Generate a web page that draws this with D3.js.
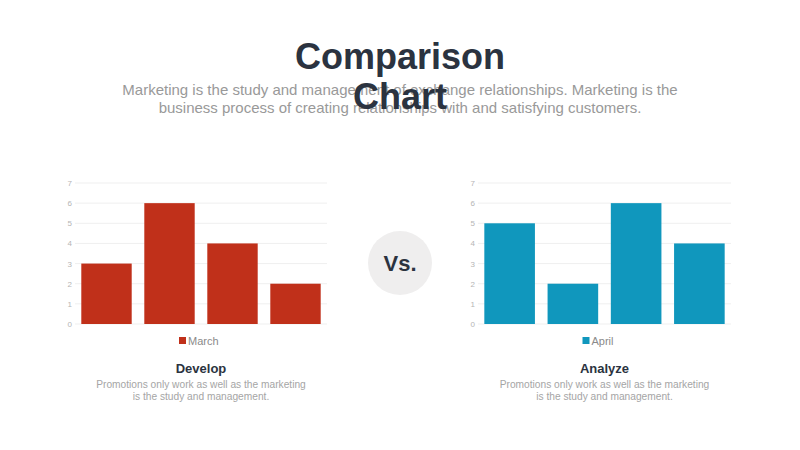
<!DOCTYPE html>
<html>
<head>
<meta charset="utf-8">
<script src="https://cdn.jsdelivr.net/npm/d3@7"></script>
<style>
  body { margin: 0; background: #fff; }
  svg { font-family: "Liberation Sans", "DejaVu Sans", sans-serif; }
</style>
</head>
<body>
<svg id="chart" width="800" height="450"></svg>
<script>
// data
var categories = ["A", "B", "C", "D"];
var marchValues = [3, 6, 4, 2];
var aprilValues = [5, 2, 6, 4];
var yTicks = [0, 1, 2, 3, 4, 5, 6, 7];

var svg = d3.select("#chart");

// Title (wraps onto two lines like the original)
svg.append("text")
  .attr("x", 400).attr("y", 69)
  .attr("text-anchor", "middle")
  .attr("font-size", "36px").attr("font-weight", "bold")
  .attr("fill", "#2b3340")
  .text("Comparison");

var sub = svg.append("text")
  .attr("text-anchor", "middle")
  .attr("font-size", "15px")
  .attr("fill", "#999");
sub.append("tspan").attr("x", 400).attr("y", 95)
  .text("Marketing is the study and management of exchange relationships. Marketing is the");
sub.append("tspan").attr("x", 400).attr("y", 113)
  .text("business process of creating relationships with and satisfying customers.");

svg.append("text")
  .attr("x", 400).attr("y", 109)
  .attr("text-anchor", "middle")
  .attr("font-size", "36px").attr("font-weight", "bold")
  .attr("fill", "#2b3340")
  .text("Chart");

function drawPanel(x0, x1, values, color, legend, heading) {
  var y = d3.scaleLinear().domain([0, 7]).range([324, 183]);
  var x = d3.scaleBand().domain(categories).range([x0, x1]).paddingInner(0.2).paddingOuter(0.1);

  var g = svg.append("g");

  g.selectAll(".grid").data(yTicks).enter().append("line")
    .attr("x1", x0).attr("x2", x1)
    .attr("y1", d => y(d)).attr("y2", d => y(d))
    .attr("stroke", "#efefef").attr("stroke-width", 1);

  g.selectAll(".tick").data(yTicks).enter().append("text")
    .attr("x", x0 - 3).attr("y", d => y(d) + 3)
    .attr("text-anchor", "end")
    .attr("font-size", "8px").attr("fill", "#b5b5b5")
    .text(d => d);

  g.selectAll("rect.bar").data(values).enter().append("rect")
    .attr("class", "bar")
    .attr("x", (d, i) => x(categories[i]))
    .attr("width", x.bandwidth())
    .attr("y", d => y(d))
    .attr("height", d => y(0) - y(d))
    .attr("fill", color);

  var cx = (x0 + x1) / 2;
  g.append("rect")
    .attr("x", cx - 22).attr("y", 337).attr("width", 7).attr("height", 7)
    .attr("fill", color);
  g.append("text")
    .attr("x", cx - 13).attr("y", 345)
    .attr("font-size", "11px").attr("fill", "#8a8a8a")
    .text(legend);

  g.append("text")
    .attr("x", cx).attr("y", 373)
    .attr("text-anchor", "middle")
    .attr("font-size", "13px").attr("font-weight", "bold").attr("fill", "#2b3340")
    .text(heading);

  var cap = g.append("text")
    .attr("text-anchor", "middle")
    .attr("font-size", "10.2px").attr("fill", "#a5a5a5");
  cap.append("tspan").attr("x", cx).attr("y", 388)
    .text("Promotions only work as well as the marketing");
  cap.append("tspan").attr("x", cx).attr("y", 400)
    .text("is the study and management.");
}

drawPanel(75, 327, marchValues, "#c0301a", "March", "Develop");
drawPanel(478, 731, aprilValues, "#1097bd", "April", "Analyze");

// Vs. circle
svg.append("circle")
  .attr("cx", 400).attr("cy", 263).attr("r", 32)
  .attr("fill", "#efeeee");
svg.append("text")
  .attr("x", 400).attr("y", 271)
  .attr("text-anchor", "middle")
  .attr("font-size", "22px").attr("font-weight", "bold").attr("fill", "#2b3340")
  .text("Vs.");
</script>
</body>
</html>
